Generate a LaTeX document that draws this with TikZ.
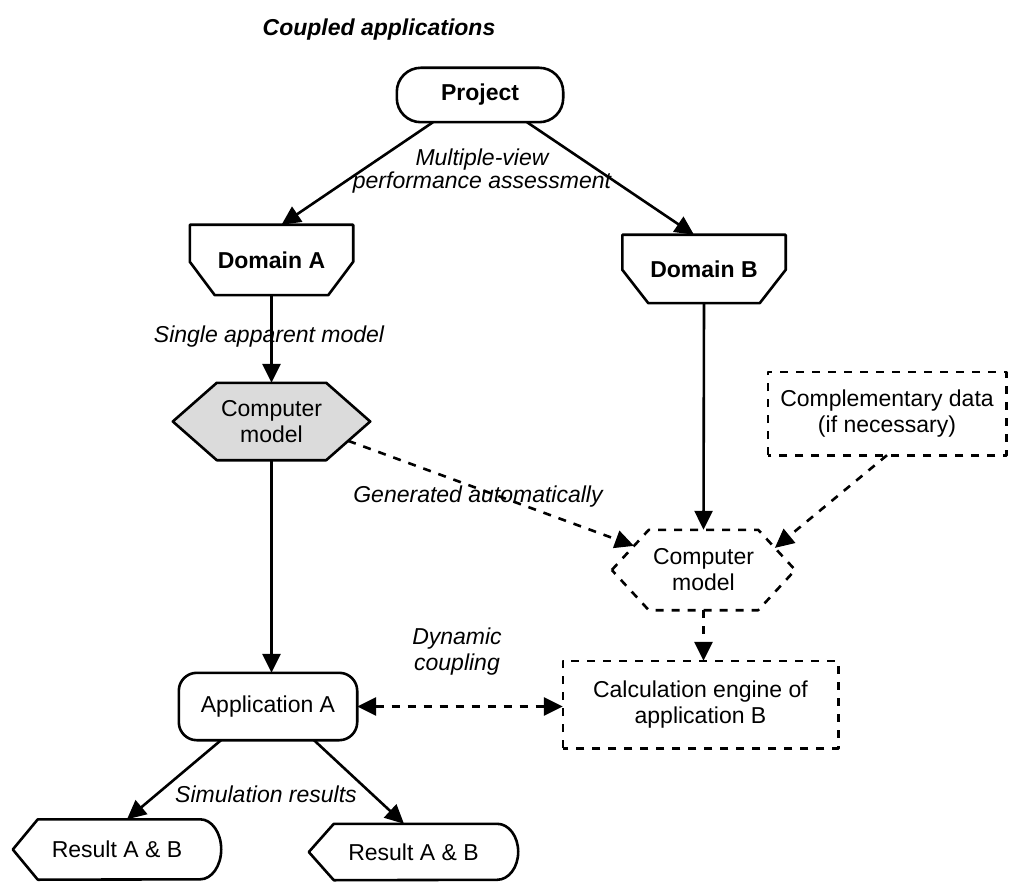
\documentclass[tikz,border=0pt]{standalone}
\usepackage{fontspec}
\setmainfont{Liberation Sans}
\usetikzlibrary{arrows.meta,calc}
\pgfdeclarelayer{background}
\pgfsetlayers{background,main}

\begin{document}
\begin{tikzpicture}[x=1pt,y=-1pt,
  every node/.style={font=\fontsize{23}{26}\selectfont, align=center, inner sep=0pt},
  lbl/.style={font=\fontsize{23}{26}\selectfont\itshape},
  frame/.style={line width=2.6pt, line join=round},
  dframe/.style={frame, dash pattern=on 8pt off 8pt},
  conn/.style={line width=2.6pt, -{Triangle[length=19pt,width=18pt]}},
  dconn/.style={conn, dash pattern=on 8pt off 8pt},
]
\useasboundingbox (0,0) rectangle (1031,885);

% title
\node[font=\fontsize{23}{26}\selectfont\bfseries\itshape] (title) at (379,30) {Coupled applications};

% node boxes (text and extent); outlines are drawn on the background layer
\node[minimum width=166pt, minimum height=54pt] (project) at (480,95) {\bfseries Project};
\node[minimum width=163pt, minimum height=70pt] (domA) at (271.5,260) {\bfseries Domain A};
\node[minimum width=163pt, minimum height=68pt] (domB) at (704,269) {\bfseries Domain B};
\node[minimum width=197pt, minimum height=77pt] (hexA) at (271.5,421.5) {Computer\\model};
\node[minimum width=183pt, minimum height=80pt] (hexB) at (703.5,570) {Computer\\model};
\node[minimum width=238pt, minimum height=83pt] (comp) at (887,413.5) {Complementary data\\(if necessary)};
\node[minimum width=275pt, minimum height=87pt] (calc) at (700.5,704.5) {Calculation engine of\\application B};
\node[minimum width=178pt, minimum height=67pt] (appA) at (268,706.5) {Application A};
\node[minimum width=208pt, minimum height=60pt] (resL) at (117,849.5) {Result A \& B};
\node[minimum width=209pt, minimum height=56pt] (resR) at (413.5,852) {Result A \& B};

\begin{pgfonlayer}{background}
  % terminator
  \draw[frame, rounded corners=24pt] (project.south west) rectangle (project.north east);
  % domain shapes with cut lower corners
  \draw[frame] (domA.north west) -- ($(domA.north west)+(0,37)$) -- ($(domA.south west)+(25,0)$)
     -- ($(domA.south east)+(-25,0)$) -- ($(domA.north east)+(0,37)$) -- (domA.north east) -- cycle;
  \draw[frame] (domB.north west) -- ($(domB.north west)+(0,35)$) -- ($(domB.south west)+(26,0)$)
     -- ($(domB.south east)+(-26,0)$) -- ($(domB.north east)+(0,35)$) -- (domB.north east) -- cycle;
  % hexagons
  \draw[frame, fill=black!14] (hexA.west) -- ($(hexA.north west)+(44,0)$) -- ($(hexA.north east)+(-44,0)$)
     -- (hexA.east) -- ($(hexA.south east)+(-44,0)$) -- ($(hexA.south west)+(44,0)$) -- cycle;
  \draw[dframe] (hexB.west) -- ($(hexB.north west)+(37,0)$) -- ($(hexB.north east)+(-37,0)$)
     -- (hexB.east) -- ($(hexB.south east)+(-37,0)$) -- ($(hexB.south west)+(37,0)$) -- cycle;
  % dashed boxes
  \draw[dframe] (comp.south west) rectangle (comp.north east);
  \draw[dframe] (calc.south west) rectangle (calc.north east);
  % application
  \draw[frame, rounded corners=18pt] (appA.south west) rectangle (appA.north east);
  % display shapes: pointed left end, elliptic right end
  \draw[frame] (resL.west) -- ($(resL.north west)+(25,0)$) -- ($(resL.north east)+(-21,0)$)
     arc[start angle=90, end angle=-90, x radius=21pt, y radius=30pt]
     -- ($(resL.south west)+(25,0)$) -- cycle;
  \draw[frame] (resR.west) -- ($(resR.north west)+(25,0)$) -- ($(resR.north east)+(-21,0)$)
     arc[start angle=90, end angle=-90, x radius=21pt, y radius=28pt]
     -- ($(resR.south west)+(25,0)$) -- cycle;
\end{pgfonlayer}

% points on hexagon edges for the oblique connectors
\coordinate (hexAbr) at ($(hexA.south east)+(-44,0)$);
\coordinate (hexAout) at ($(hexA.east)!0.5!(hexAbr)$);
\coordinate (hexBtl) at ($(hexB.north west)+(37,0)$);
\coordinate (hexBinL) at ($(hexBtl)!0.4!(hexB.west)$);
\coordinate (hexBtr) at ($(hexB.north east)+(-37,0)$);
\coordinate (hexBinR) at ($(hexBtr)!0.45!(hexB.east)$);

% connectors
\draw[conn] ($(project.south)+(-47,0)$) -- ($(domA.north)+(10,0)$);
\draw[conn] ($(project.south)+(47,0)$) -- ($(domB.north)+(-10,0)$);
\draw[conn] (domA.south) -- (hexA.north);
\draw[conn] (domB.south) -- (hexB.north);
\draw[conn] (hexA.south) -- (hexA.south |- appA.north);
\draw[dconn] (hexB.south) -- (hexB.south |- calc.north);
\draw[dconn] (hexAout) -- (hexBinL);
\draw[dconn] (comp.south) -- (hexBinR);
\draw[dconn, {Triangle[length=19pt,width=18pt]}-{Triangle[length=19pt,width=18pt]}] (appA.east) -- (appA.east -| calc.west);
\draw[conn] ($(appA.south)+(-47,0)$) -- ($(resL.north)+(10,0)$);
\draw[conn] ($(appA.south)+(46,0)$) -- ($(resR.north)+(-9.5,0)$);

% connector labels
\node[lbl, font=\fontsize{23}{21}\selectfont\itshape] (lmulti) at (482,171) {Multiple-view\\performance assessment};
\node[lbl] (lsingle) at (269,337) {Single apparent model};
\node[lbl] (lgen) at (478,497) {Generated automatically};
\node[lbl] (ldyn) at (457,652) {Dynamic\\coupling};
\node[lbl] (lsim) at (266,794) {Simulation results};
\end{tikzpicture}
\end{document}
